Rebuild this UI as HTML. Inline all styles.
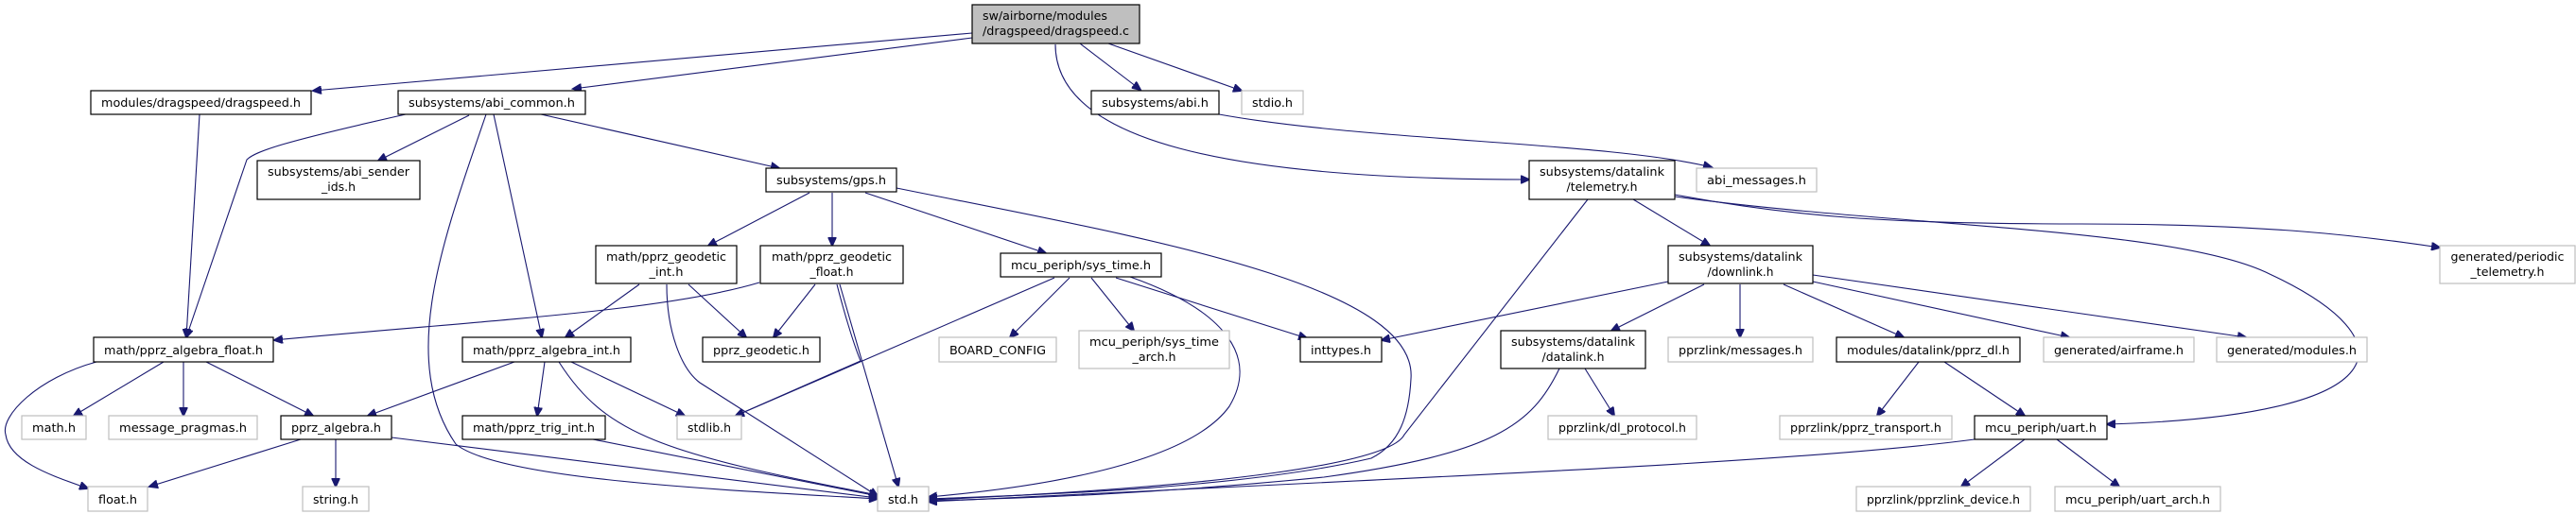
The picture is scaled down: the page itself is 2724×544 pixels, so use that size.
<!DOCTYPE html>
<html><head><meta charset="utf-8"><style>
html,body{margin:0;padding:0;background:#fff;}
svg{display:block;}
text{font-family:"DejaVu Sans","Liberation Sans",sans-serif;font-size:12px;fill:#000;}
.b{fill:#fff;stroke:#000;stroke-width:1.2;}
.g{fill:#fff;stroke:#bfbfbf;stroke-width:1.2;}
.r{fill:#bfbfbf;stroke:#000;stroke-width:1.2;}
path.e{fill:none;stroke:#191970;stroke-width:1.1;marker-end:url(#a);}
</style></head><body>
<svg width="2724" height="544" viewBox="0 0 2724 544" xmlns="http://www.w3.org/2000/svg">
<defs><marker id="a" markerUnits="userSpaceOnUse" markerWidth="11" markerHeight="9" refX="9" refY="4.5" orient="auto"><path d="M0,0 L10,4.5 L0,9 Z" fill="#191970" stroke="#191970"/></marker></defs>

<path class="e" d="M1028,35 L331,96"/>
<path class="e" d="M1028,40 L606,94"/>
<path class="e" d="M1142,46 L1206,95"/>
<path class="e" d="M1172,46 L1313,96"/>
<path class="e" d="M1116,47 C1116,150 1300,190 1617,190"/>
<path class="e" d="M429,121 C300,150 270,160 261,169 L197,357"/>
<path class="e" d="M496,122 L400,170"/>
<path class="e" d="M514,121 C470,250 420,380 482,470 C530,510 800,520 928,528"/>
<path class="e" d="M522,121 L573,357"/>
<path class="e" d="M572,121 L824,178"/>
<path class="e" d="M856,204 L749,260"/>
<path class="e" d="M880,204 L880,260"/>
<path class="e" d="M915,204 L1106,268"/>
<path class="e" d="M948,199 C1200,250 1500,300 1492,401 C1490,440 1480,470 1450,485 C1300,520 1050,525 982,528"/>
<path class="e" d="M676,301 L598,357"/>
<path class="e" d="M728,301 L789,357"/>
<path class="e" d="M705,301 C705,350 720,390 740,405 L928,525"/>
<path class="e" d="M803,299 C700,330 500,340 290,360"/>
<path class="e" d="M862,301 L818,357"/>
<path class="e" d="M885,301 C895,340 905,370 910,382 L778,440"/>
<path class="e" d="M888,301 L950,515"/>
<path class="e" d="M1115,294 L778,440"/>
<path class="e" d="M1131,294 L1068,357"/>
<path class="e" d="M1154,294 L1199,350"/>
<path class="e" d="M1180,294 L1382,358"/>
<path class="e" d="M1195,293 C1300,330 1330,380 1300,430 C1250,500 1050,520 982,526"/>
<path class="e" d="M1679,211 L1485,460 C1470,490 1300,515 982,529"/>
<path class="e" d="M1727,211 L1808,260"/>
<path class="e" d="M1771,206 C1900,230 2000,237 2200,237 C2400,237 2500,250 2580,262"/>
<path class="e" d="M1771,208 C2000,240 2300,240 2400,290 C2550,360 2540,440 2228,449"/>
<path class="e" d="M1289,121 C1450,150 1700,150 1810,177"/>
<path class="e" d="M1764,298 L1461,360"/>
<path class="e" d="M1802,301 L1704,350"/>
<path class="e" d="M1840,301 L1840,357"/>
<path class="e" d="M1886,301 L2013,357"/>
<path class="e" d="M1917,298 L2188,357"/>
<path class="e" d="M1917,291 L2375,357"/>
<path class="e" d="M1676,390 L1707,440"/>
<path class="e" d="M1649,390 C1620,450 1580,480 1400,505 C1200,525 1050,528 982,530"/>
<path class="e" d="M2029,383 L1985,440"/>
<path class="e" d="M2056,383 L2141,440"/>
<path class="e" d="M2088,465 C1900,490 1500,505 982,531"/>
<path class="e" d="M2141,465 L2074,515"/>
<path class="e" d="M2175,465 L2241,515"/>
<path class="e" d="M211,121 L197,357"/>
<path class="e" d="M102,383 C40,400 0,440 6,460 C10,490 60,505 93,517"/>
<path class="e" d="M173,383 L78,440"/>
<path class="e" d="M194,383 L194,440"/>
<path class="e" d="M218,383 L331,440"/>
<path class="e" d="M544,383 L389,440"/>
<path class="e" d="M576,383 L568,440"/>
<path class="e" d="M604,383 L724,440"/>
<path class="e" d="M591,383 C640,460 700,480 928,524"/>
<path class="e" d="M318,465 L158,515"/>
<path class="e" d="M355,465 L355,515"/>
<path class="e" d="M414,463 L928,527"/>
<path class="e" d="M627,465 L928,525"/>

<rect class="r" x="1028" y="5" width="177" height="41"/>
<text x="1039" y="21" textLength="132" lengthAdjust="spacingAndGlyphs">sw/airborne/modules</text>
<text x="1039" y="37" textLength="155" lengthAdjust="spacingAndGlyphs">/dragspeed/dragspeed.c</text>

<g text-anchor="middle">
<rect class="b" x="96" y="96" width="233" height="25"/><text x="212.5" y="113" textLength="211" lengthAdjust="spacingAndGlyphs">modules/dragspeed/dragspeed.h</text>
<rect class="b" x="421" y="96" width="198" height="25"/><text x="520" y="113" textLength="176" lengthAdjust="spacingAndGlyphs">subsystems/abi_common.h</text>
<rect class="b" x="1154" y="96" width="135" height="25"/><text x="1221.5" y="113" textLength="113" lengthAdjust="spacingAndGlyphs">subsystems/abi.h</text>
<rect class="g" x="1313" y="96" width="65" height="25"/><text x="1345.5" y="113" textLength="43" lengthAdjust="spacingAndGlyphs">stdio.h</text>
<rect class="b" x="272" y="170" width="172" height="41"/><text x="358" y="186" textLength="150" lengthAdjust="spacingAndGlyphs">subsystems/abi_sender</text><text x="358" y="202" textLength="36" lengthAdjust="spacingAndGlyphs">_ids.h</text>
<rect class="b" x="810" y="178" width="138" height="25"/><text x="879" y="195" textLength="116" lengthAdjust="spacingAndGlyphs">subsystems/gps.h</text>
<rect class="b" x="1617" y="170" width="154" height="41"/><text x="1694" y="186" textLength="132" lengthAdjust="spacingAndGlyphs">subsystems/datalink</text><text x="1694" y="202" textLength="75" lengthAdjust="spacingAndGlyphs">/telemetry.h</text>
<rect class="g" x="1794" y="178" width="127" height="25"/><text x="1857.5" y="195" textLength="105" lengthAdjust="spacingAndGlyphs">abi_messages.h</text>
<rect class="b" x="630" y="260" width="149" height="40"/><text x="704.5" y="276" textLength="127" lengthAdjust="spacingAndGlyphs">math/pprz_geodetic</text><text x="704.5" y="292" textLength="36" lengthAdjust="spacingAndGlyphs">_int.h</text>
<rect class="b" x="804" y="260" width="151" height="40"/><text x="879.5" y="276" textLength="127" lengthAdjust="spacingAndGlyphs">math/pprz_geodetic</text><text x="879.5" y="292" textLength="46" lengthAdjust="spacingAndGlyphs">_float.h</text>
<rect class="b" x="1058" y="268" width="170" height="25"/><text x="1143" y="285" textLength="148" lengthAdjust="spacingAndGlyphs">mcu_periph/sys_time.h</text>
<rect class="b" x="1764" y="260" width="153" height="40"/><text x="1840.5" y="276" textLength="131" lengthAdjust="spacingAndGlyphs">subsystems/datalink</text><text x="1840.5" y="292" textLength="70" lengthAdjust="spacingAndGlyphs">/downlink.h</text>
<rect class="g" x="2580" y="260" width="143" height="40"/><text x="2651.5" y="276" textLength="120" lengthAdjust="spacingAndGlyphs">generated/periodic</text><text x="2651.5" y="292" textLength="78" lengthAdjust="spacingAndGlyphs">_telemetry.h</text>
<rect class="b" x="99" y="357" width="190" height="26"/><text x="194" y="375" textLength="168" lengthAdjust="spacingAndGlyphs">math/pprz_algebra_float.h</text>
<rect class="b" x="489" y="357" width="178" height="26"/><text x="578" y="375" textLength="156" lengthAdjust="spacingAndGlyphs">math/pprz_algebra_int.h</text>
<rect class="b" x="743" y="357" width="124" height="26"/><text x="805" y="375" textLength="102" lengthAdjust="spacingAndGlyphs">pprz_geodetic.h</text>
<rect class="g" x="993" y="357" width="124" height="26"/><text x="1055" y="375" textLength="102" lengthAdjust="spacingAndGlyphs">BOARD_CONFIG</text>
<rect class="g" x="1141" y="350" width="159" height="40"/><text x="1220.5" y="366" textLength="137" lengthAdjust="spacingAndGlyphs">mcu_periph/sys_time</text><text x="1220.5" y="382" textLength="46" lengthAdjust="spacingAndGlyphs">_arch.h</text>
<rect class="b" x="1375" y="357" width="86" height="26"/><text x="1418" y="375" textLength="64" lengthAdjust="spacingAndGlyphs">inttypes.h</text>
<rect class="b" x="1587" y="350" width="153" height="40"/><text x="1663.5" y="366" textLength="131" lengthAdjust="spacingAndGlyphs">subsystems/datalink</text><text x="1663.5" y="382" textLength="66" lengthAdjust="spacingAndGlyphs">/datalink.h</text>
<rect class="g" x="1764" y="357" width="153" height="26"/><text x="1840.5" y="375" textLength="131" lengthAdjust="spacingAndGlyphs">pprzlink/messages.h</text>
<rect class="b" x="1942" y="357" width="194" height="26"/><text x="2039" y="375" textLength="172" lengthAdjust="spacingAndGlyphs">modules/datalink/pprz_dl.h</text>
<rect class="g" x="2161" y="357" width="159" height="26"/><text x="2240.5" y="375" textLength="137" lengthAdjust="spacingAndGlyphs">generated/airframe.h</text>
<rect class="g" x="2344" y="357" width="159" height="26"/><text x="2423.5" y="375" textLength="137" lengthAdjust="spacingAndGlyphs">generated/modules.h</text>
<rect class="g" x="23" y="440" width="68" height="25"/><text x="57" y="457" textLength="46" lengthAdjust="spacingAndGlyphs">math.h</text>
<rect class="g" x="115" y="440" width="157" height="25"/><text x="193.5" y="457" textLength="135" lengthAdjust="spacingAndGlyphs">message_pragmas.h</text>
<rect class="b" x="297" y="440" width="117" height="25"/><text x="355.5" y="457" textLength="95" lengthAdjust="spacingAndGlyphs">pprz_algebra.h</text>
<rect class="b" x="489" y="440" width="151" height="25"/><text x="564.5" y="457" textLength="129" lengthAdjust="spacingAndGlyphs">math/pprz_trig_int.h</text>
<rect class="g" x="716" y="440" width="68" height="25"/><text x="750" y="457" textLength="46" lengthAdjust="spacingAndGlyphs">stdlib.h</text>
<rect class="g" x="1637" y="440" width="157" height="25"/><text x="1715.5" y="457" textLength="135" lengthAdjust="spacingAndGlyphs">pprzlink/dl_protocol.h</text>
<rect class="g" x="1882" y="440" width="182" height="25"/><text x="1973" y="457" textLength="160" lengthAdjust="spacingAndGlyphs">pprzlink/pprz_transport.h</text>
<rect class="b" x="2088" y="440" width="140" height="25"/><text x="2158" y="457" textLength="118" lengthAdjust="spacingAndGlyphs">mcu_periph/uart.h</text>
<rect class="g" x="93" y="515" width="63" height="26"/><text x="124.5" y="533" textLength="41" lengthAdjust="spacingAndGlyphs">float.h</text>
<rect class="g" x="320" y="515" width="70" height="26"/><text x="355" y="533" textLength="48" lengthAdjust="spacingAndGlyphs">string.h</text>
<rect class="g" x="928" y="515" width="54" height="26"/><text x="955" y="533" textLength="32" lengthAdjust="spacingAndGlyphs">std.h</text>
<rect class="g" x="1963" y="515" width="184" height="26"/><text x="2055" y="533" textLength="162" lengthAdjust="spacingAndGlyphs">pprzlink/pprzlink_device.h</text>
<rect class="g" x="2173" y="515" width="175" height="26"/><text x="2260.5" y="533" textLength="153" lengthAdjust="spacingAndGlyphs">mcu_periph/uart_arch.h</text>
</g>
</svg>
</body></html>
